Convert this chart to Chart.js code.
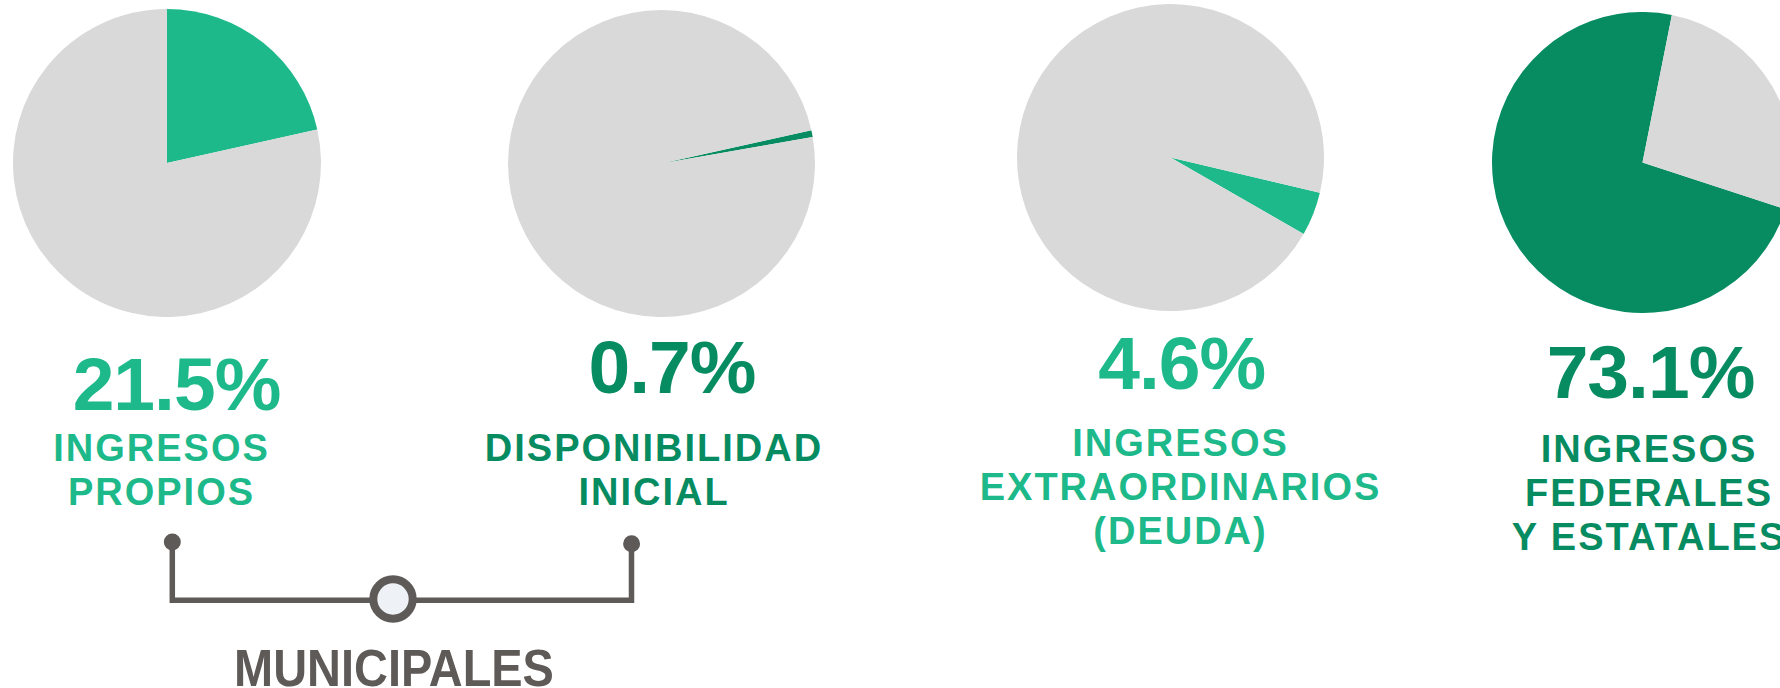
<!DOCTYPE html>
<html lang="es">
<head>
<meta charset="utf-8">
<script src="https://cdn.jsdelivr.net/npm/chart.js@4.4.1/dist/chart.umd.min.js"></script>
<style>
  html, body { margin: 0; padding: 0; background: #fff; width: 1780px; height: 688px; overflow: hidden; }
  body { position: relative; font-family: "Liberation Sans", Arial, sans-serif; font-weight: bold; }
  canvas.pie { position: absolute; }
  .pct { position: absolute; width: 400px; text-align: center; font-size: 75px; line-height: 75px; letter-spacing: -1px; white-space: nowrap; }
  .lbl { position: absolute; width: 500px; text-align: center; font-size: 38px; line-height: 44px; letter-spacing: 2px; white-space: nowrap; }
  .group { position: absolute; width: 600px; text-align: center; font-size: 51px; line-height: 51px; color: #5E5A58; transform: scaleX(0.92); }
  svg { position: absolute; left: 0; top: 0; }
</style>
</head>
<body>
<svg width="1780" height="688">
  <polyline points="172.3,542 172.3,600.3 631.5,600.3 631.5,544" fill="none" stroke="#5E5A58" stroke-width="5.5"/>
  <circle cx="172.3" cy="542" r="8.5" fill="#5E5A58"/>
  <circle cx="631.6" cy="543.8" r="8.5" fill="#5E5A58"/>
  <circle cx="393" cy="599" r="19.7" fill="#EEF2F6" stroke="#5E5A58" stroke-width="8"/>
</svg>
<div class="group" style="left:93.8px; top:642.6px;">MUNICIPALES</div>
<script>
// data
const categories = [
  ['INGRESOS', 'PROPIOS'],
  ['DISPONIBILIDAD', 'INICIAL'],
  ['INGRESOS', 'EXTRAORDINARIOS', '(DEUDA)'],
  ['INGRESOS', 'FEDERALES', 'Y ESTATALES']
];
const shares = [21.5, 0.7, 4.6, 73.1];
const remainder = [78.5, 99.3, 95.4, 26.9];

// look and placement
const colors = ['#1DB98A', '#078C62', '#1DB98A', '#078C62'];
const restColor = '#D9D9D9';
const rotations = [0, 77.5, 103.3, 108.1];
const layout = [
  { cx: 167,    cy: 163,   r: 154,   pctX: 176.5,  pctTop: 356.7, lblX: 160.5,  lblTop: 434.3 },
  { cx: 661.5,  cy: 163,   r: 153.5, pctX: 672,    pctTop: 340,   lblX: 653,    lblTop: 434.3 },
  { cx: 1170.5, cy: 157.5, r: 153.5, pctX: 1181.7, pctTop: 336,   lblX: 1179.5, lblTop: 429.3 },
  { cx: 1643,   cy: 162.7, r: 150.7, pctX: 1650.5, pctTop: 345,   lblX: 1648,   lblTop: 435 }
];

shares.forEach((share, i) => {
  const L = layout[i];

  const canvas = document.createElement('canvas');
  canvas.className = 'pie';
  canvas.width = L.r * 2;
  canvas.height = L.r * 2;
  canvas.style.left = (L.cx - L.r) + 'px';
  canvas.style.top = (L.cy - L.r) + 'px';
  document.body.appendChild(canvas);

  new Chart(canvas.getContext('2d'), {
    type: 'pie',
    data: {
      labels: [categories[i].join(' '), 'Resto'],
      datasets: [{
        data: [share, remainder[i]],
        backgroundColor: [colors[i], restColor],
        borderWidth: 0
      }]
    },
    options: {
      responsive: false,
      animation: false,
      events: [],
      rotation: rotations[i],
      layout: { padding: 0 },
      plugins: {
        legend: { display: false },
        tooltip: { enabled: false }
      }
    }
  });

  const pct = document.createElement('div');
  pct.className = 'pct';
  pct.style.color = colors[i];
  pct.style.left = (L.pctX - 200) + 'px';
  pct.style.top = (L.pctTop - 9.8) + 'px';
  pct.textContent = share.toFixed(1) + '%';
  document.body.appendChild(pct);

  const lbl = document.createElement('div');
  lbl.className = 'lbl';
  lbl.style.color = colors[i];
  lbl.style.left = (L.lblX - 250 + 1) + 'px';
  lbl.style.top = (L.lblTop - 8) + 'px';
  lbl.innerHTML = categories[i].join('<br>');
  document.body.appendChild(lbl);
});
</script>
</body>
</html>
